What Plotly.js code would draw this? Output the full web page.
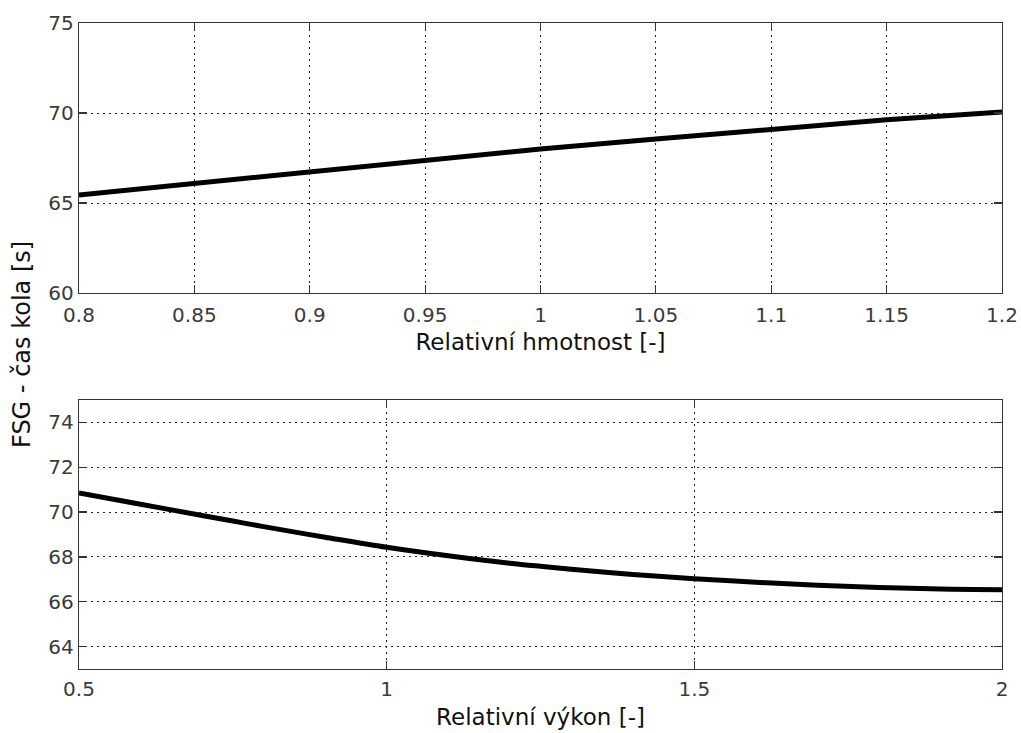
<!DOCTYPE html>
<html>
<head>
<meta charset="utf-8">
<script src="https://cdn.plot.ly/plotly-3.0.1.min.js"></script>
<style>html,body{margin:0;padding:0;background:#fff;}#chart{width:1021px;height:733px;}</style>
</head>
<body>
<div id="chart"></div>
<script>
// Top subplot: relative mass vs lap time
const massX = [0.8, 0.85, 0.9, 0.95, 1.0, 1.05, 1.1, 1.15, 1.2];
const massY = [65.45, 66.1, 66.75, 67.4, 68.0, 68.55, 69.1, 69.62, 70.05];
// Bottom subplot: relative power vs lap time
const powerX = [0.5, 0.6, 0.7, 0.75, 0.8, 0.9, 1.0, 1.1, 1.2, 1.25, 1.3, 1.4, 1.5, 1.6, 1.7, 1.8, 1.9, 2.0];
const powerY = [70.85, 70.35, 69.85, 69.6, 69.35, 68.88, 68.43, 68.05, 67.72, 67.58, 67.45, 67.22, 67.03, 66.87, 66.74, 66.64, 66.57, 66.54];
// tick labels
const topXTicks = [0.8, 0.85, 0.9, 0.95, 1, 1.05, 1.1, 1.15, 1.2];
const topXLabels = ['0.8','0.85','0.9','0.95','1','1.05','1.1','1.15','1.2'];
const topYTicks = [60, 65, 70, 75];
const botXTicks = [0.5, 1, 1.5, 2];
const botXLabels = ['0.5','1','1.5','2'];
const botYTicks = [64, 66, 68, 70, 72, 74];
const xTitleTop = 'Relativní hmotnost [-]';
const xTitleBot = 'Relativní výkon [-]';
const yTitle = 'FSG - čas kola [s]';

const FONT = '"DejaVu Sans", Arial, sans-serif';
const tickFont = {family: FONT, size: 20, color: '#3a3a3a'};
const titleFont = {family: FONT, size: 23, color: '#111'};
const yTitleFont = {family: FONT, size: 24, color: '#111'};

function axisBase() {
  return {
    showline: true, linecolor: '#333', linewidth: 1.2, mirror: 'allticks',
    ticks: 'inside', ticklen: 8, tickcolor: '#333', tickwidth: 1.2,
    showgrid: true, gridcolor: '#222', gridwidth: 1, griddash: '2px,4px',
    zeroline: false, tickfont: tickFont, fixedrange: true
  };
}

const data = [
  {x: massX, y: massY, xaxis: 'x', yaxis: 'y', type: 'scatter', mode: 'lines',
   line: {color: '#000', width: 5}, hoverinfo: 'skip'},
  {x: powerX, y: powerY, xaxis: 'x2', yaxis: 'y2', type: 'scatter', mode: 'lines',
   line: {color: '#000', width: 5, shape: 'spline'}, hoverinfo: 'skip'}
];

const layout = {
  width: 1021, height: 733,
  margin: {l: 0, r: 0, t: 0, b: 0},
  paper_bgcolor: '#fff', plot_bgcolor: '#fff',
  showlegend: false,
  xaxis: Object.assign(axisBase(), {
    domain: [79/1021, 1002/1021], range: [0.8, 1.2], anchor: 'y',
    tickvals: topXTicks, ticktext: topXLabels, ticklabelstandoff: 4,
    title: {text: xTitleTop, font: titleFont, standoff: 7}
  }),
  yaxis: Object.assign(axisBase(), {
    domain: [1 - 293/733, 1 - 23/733], range: [60, 75], anchor: 'x',
    tickvals: topYTicks
  }),
  xaxis2: Object.assign(axisBase(), {
    domain: [79/1021, 1002/1021], range: [0.5, 2], anchor: 'y2',
    tickvals: botXTicks, ticktext: botXLabels, ticklabelstandoff: 2,
    title: {text: xTitleBot, font: titleFont, standoff: 8}
  }),
  yaxis2: Object.assign(axisBase(), {
    domain: [1 - 669/733, 1 - 400/733], range: [63, 75], anchor: 'x2',
    tickvals: botYTicks
  }),
  annotations: [{
    text: yTitle, textangle: -90, xref: 'paper', yref: 'paper',
    x: 22/1021, y: 1 - 345/733, xanchor: 'center', yanchor: 'middle',
    showarrow: false, font: yTitleFont
  }]
};

Plotly.newPlot('chart', data, layout, {displayModeBar: false, staticPlot: true});
</script>
</body>
</html>
